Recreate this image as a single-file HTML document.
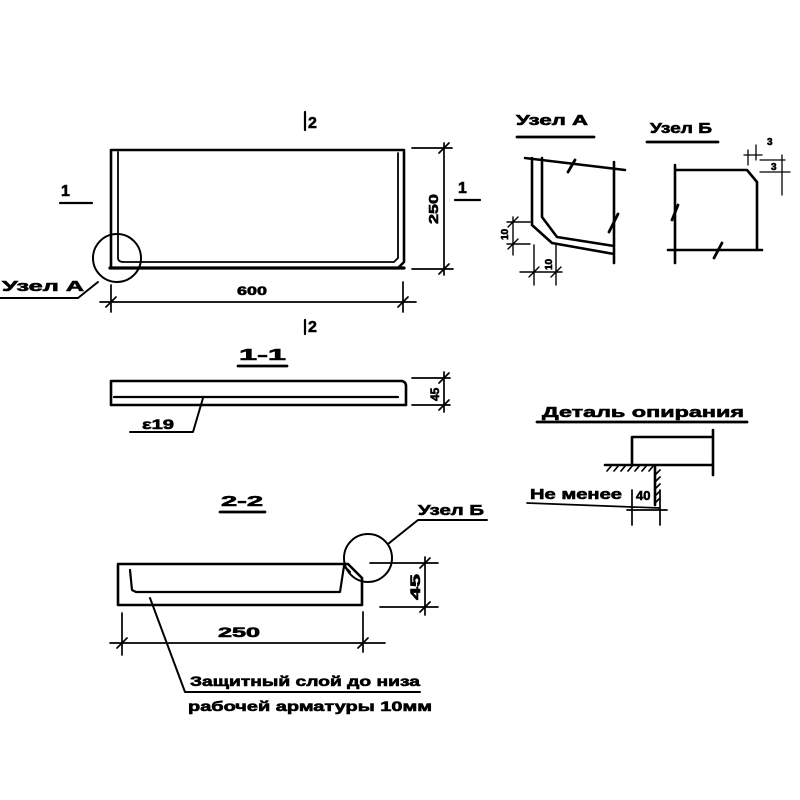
<!DOCTYPE html>
<html><head><meta charset="utf-8"><style>
html,body{margin:0;padding:0;background:#fff;}
svg{display:block;}
text{font-family:"Liberation Sans",sans-serif;font-weight:bold;fill:#000;stroke:#000;stroke-width:0.6;}
</style></head><body>
<svg width="800" height="800" viewBox="0 0 800 800" xmlns="http://www.w3.org/2000/svg">
<g fill="none" stroke="#000" stroke-width="2.6" stroke-linecap="round" stroke-linejoin="round">
<!-- plan -->
<path d="M111,150 L404,150 L404,262 L398,268 L111,268 Z"/>
<path d="M118,152 L118,258 Q118,262 124,262 L394,262 L398,258 L398,153" stroke-width="1.8"/>
<path d="M110,268 L404,268" stroke-width="3.2"/>
<circle cx="117" cy="258" r="24" stroke-width="2"/>
<path d="M98,282 L78,298 L0,298" stroke-width="2"/>
<path d="M412,148 L452,148 M412,269 L453,269 M444,143 L444,275 M439,153 L449,143 M439,274 L449,264" stroke-width="1.7"/>
<path d="M111,285 L111,312 M403,282 L403,312 M100,302 L416,302 M106,307 L116,297 M398,307 L408,297" stroke-width="1.7"/>
<path d="M305,112 L305,130 M305,320 L305,334" stroke-width="2.2"/>
<path d="M60,203 L92,203 M455,200 L480,200" stroke-width="2.2"/>
<!-- section 1-1 -->
<path d="M238,366 L287,366" stroke-width="2.8"/>
<path d="M111,381 L402,381 Q406,382 406,386 L406,405 L111,405 Z"/>
<path d="M114,397 L398,397" stroke-width="2.2"/>
<path d="M412,378 L450,378 M412,405 L450,405 M444,372 L444,412 M439,383 L449,373 M439,410 L449,400" stroke-width="1.7"/>
<path d="M203,398 L193,432 L130,432" stroke-width="2"/>
<!-- uzel A -->
<path d="M517,137 L594,137" stroke-width="2.8"/>
<path d="M525,158 L625,170 M532,158 L532,225 L552,243 L614,254 M542,158 L542,217 L557,237 L614,246 M614,162 L614,263"/>
<path d="M568,172 L575,160 M609,232 L618,214" stroke-width="2.8"/>
<path d="M507,222 L530,222 M507,244 L530,244 M513,217 L513,255 M508,227 L518,217 M508,249 L518,239 M534,245 L534,285 M556,245 L556,285 M520,272 L562,272 M529,277 L539,267 M551,277 L561,267" stroke-width="1.4"/>
<!-- uzel B -->
<path d="M647,142 L718,142" stroke-width="2.8"/>
<path d="M675,165 L675,263 M675,170 L747,170 L757,182 L757,250 M668,250 L762,250"/>
<path d="M672,220 L678,205 M714,258 L722,243" stroke-width="2.8"/>
<path d="M748,150 L748,165 M756,145 L756,160 M744,155 L762,155 M760,160 L785,160 M760,172 L790,172 M782,155 L782,195 M765,160 L775,160" stroke-width="1.3"/>
<!-- detail -->
<path d="M537,422 L747,422" stroke-width="2.8"/>
<path d="M632,437 L713,437 L713,465 L632,465 Z M605,465 L713,465 M655,465 L655,505 M713,430 L713,475"/>
<path d="M607,471 L612,465 M614,471 L619,465 M621,471 L626,465 M628,471 L633,465 M635,471 L640,465 M642,471 L647,465 M649,471 L654,465 M660,470 L655,475 M660,477 L655,482 M660,484 L655,489 M660,491 L655,496 M660,498 L655,503" stroke-width="1.7"/>
<path d="M527,503 L660,508 M632,490 L632,525 M660,490 L660,525 M627,510 L667,510" stroke-width="1.7"/>
<!-- section 2-2 -->
<path d="M220,512 L265,512" stroke-width="2.8"/>
<path d="M118,564 L348,564 L362,578 L362,605 L118,605 Z"/>
<path d="M130,570 L132,590 L136,592 L340,592 L344,566 L350,572" stroke-width="2.2"/>
<circle cx="368" cy="558" r="24" stroke-width="2"/>
<path d="M388,544 L418,520 L487,520" stroke-width="2"/>
<path d="M370,563 L438,563 M380,607 L438,607 M425,557 L425,615 M420,568 L430,558 M420,612 L430,602" stroke-width="1.7"/>
<path d="M122,613 L122,655 M363,612 L363,652 M110,643 L385,643 M117,648 L127,638 M358,648 L368,638" stroke-width="1.7"/>
<path d="M150,598 L185,692 L420,692" stroke-width="2"/>
</g>
<text x="61" y="196" font-size="16">1</text>
<text x="458" y="193" font-size="16">1</text>
<text x="308" y="128" font-size="16">2</text>
<text x="308" y="332" font-size="16">2</text>
<text x="2" y="291" font-size="15" textLength="82" lengthAdjust="spacingAndGlyphs">Узел А</text>
<text x="237" y="295" font-size="12" textLength="30" lengthAdjust="spacingAndGlyphs">600</text>
<text transform="translate(438,224) rotate(-90)" font-size="13" textLength="30" lengthAdjust="spacingAndGlyphs">250</text>
<text x="239" y="360" font-size="16" textLength="47" lengthAdjust="spacingAndGlyphs">1-1</text>
<text transform="translate(439,401) rotate(-90)" font-size="12">45</text>
<text x="142" y="429" font-size="14" textLength="32" lengthAdjust="spacingAndGlyphs">ε19</text>
<text x="516" y="125" font-size="15" textLength="72" lengthAdjust="spacingAndGlyphs">Узел А</text>
<text x="650" y="133" font-size="15" textLength="62" lengthAdjust="spacingAndGlyphs">Узел Б</text>
<text x="767" y="145" font-size="10">3</text>
<text x="771" y="170" font-size="10">3</text>
<text transform="translate(508,240) rotate(-90)" font-size="10">10</text>
<text transform="translate(552,270) rotate(-90)" font-size="10">10</text>
<text x="542" y="417" font-size="15" textLength="202" lengthAdjust="spacingAndGlyphs">Деталь  опирания</text>
<text x="530" y="499" font-size="15" textLength="92" lengthAdjust="spacingAndGlyphs">Не менее</text>
<text x="636" y="500" font-size="13">40</text>
<text x="221" y="506" font-size="15" textLength="42" lengthAdjust="spacingAndGlyphs">2-2</text>
<text x="418" y="515" font-size="15" textLength="66" lengthAdjust="spacingAndGlyphs">Узел Б</text>
<text transform="translate(420,600) rotate(-90)" font-size="14" textLength="26" lengthAdjust="spacingAndGlyphs">45</text>
<text x="218" y="637" font-size="14" textLength="42" lengthAdjust="spacingAndGlyphs">250</text>
<text x="190" y="686" font-size="14" textLength="230" lengthAdjust="spacingAndGlyphs">Защитный  слой до низа</text>
<text x="188" y="711" font-size="14" textLength="244" lengthAdjust="spacingAndGlyphs">рабочей  арматуры 10мм</text>
</svg>
</body></html>
